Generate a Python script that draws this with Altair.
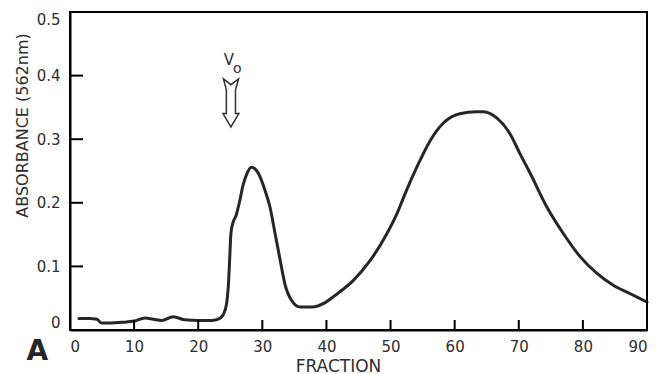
import altair as alt
import pandas as pd

# Elution profile
fraction = [1.4, 3.0, 4.2, 4.9, 6.5, 8.0, 10.0, 11.7, 13.0, 14.3, 16.1, 17.9, 20.0, 22.1,
            23.3, 23.9, 24.4, 24.7, 24.9, 25.1, 25.4, 25.9, 26.5, 27.0, 27.6, 28.3, 28.9,
            29.4, 30.4, 31.2, 32.0, 32.8, 33.5, 34.6, 35.9, 37.7, 39.8, 41.3, 44.2, 46.8,
            49.4, 51.0, 52.5, 54.1, 56.2, 58.2, 60.8, 63.4, 64.5, 66.6, 68.6, 70.2, 71.8,
            74.4, 77.0, 79.6, 82.2, 84.8, 87.4, 90.0]
absorbance = [0.018, 0.018, 0.017, 0.011, 0.011, 0.012, 0.014, 0.019, 0.017, 0.015, 0.021,
              0.016, 0.015, 0.015, 0.018, 0.024, 0.040, 0.070, 0.110, 0.152, 0.168, 0.180,
              0.204, 0.228, 0.246, 0.256, 0.253, 0.246, 0.220, 0.193, 0.151, 0.109, 0.073,
              0.046, 0.036, 0.036, 0.043, 0.054, 0.078, 0.109, 0.151, 0.183, 0.220, 0.256,
              0.298, 0.325, 0.340, 0.343, 0.343, 0.333, 0.309, 0.277, 0.246, 0.193, 0.151,
              0.115, 0.089, 0.070, 0.057, 0.044]

x_ticks = [0, 10, 20, 30, 40, 50, 60, 70, 80, 90]
y_ticks = [0, 0.1, 0.2, 0.3, 0.4, 0.5]
x_inner_ticks = [10, 20, 30, 40, 50, 60, 70, 80]
y_inner_ticks = [0.1, 0.2, 0.3, 0.4]
x_range = [0, 90]
y_range = [0, 0.5]

# Annotations (data coordinates)
vo_arrow_x = [25.1]
vo_arrow_y = [0.357]
vo_text = ["V", "o"]
vo_text_x = [24.8, 26.1]
vo_text_y = [0.424, 0.410]
panel_text = ["A"]
panel_x = [-5.1]
panel_y = [-0.034]

W, H = 577, 318
INK = "black"
TXT = "#2e2e2e"
FONT = "DejaVu Sans"
LW = 2

curve_df = pd.DataFrame({"fraction": fraction, "absorbance": absorbance})
xs = alt.Scale(domain=x_range, nice=False, zero=False)
ys = alt.Scale(domain=y_range, nice=False, zero=False)

curve = alt.Chart(curve_df).mark_line(
    color="#262626", strokeWidth=3, interpolate="monotone", strokeCap="round", strokeJoin="round"
).encode(
    x=alt.X("fraction:Q", scale=xs,
            axis=alt.Axis(values=x_ticks, format="d", labelFlush=True, tickSize=0,
                          labelPadding=9, domain=True, domainColor=INK, domainWidth=LW,
                          grid=False, labelFont=FONT,
                          labelFontSize=15, labelColor=TXT, title="FRACTION",
                          titleFont=FONT, titleFontSize=17, titleFontWeight="normal",
                          titleColor=TXT, titleX=268, titleY=36, titleAlign="center",
                          titleBaseline="middle")),
    y=alt.Y("absorbance:Q", scale=ys,
            axis=alt.Axis(values=y_ticks, format=".1~f", labelFlush=True, tickSize=0,
                          labelPadding=10, domain=True, domainColor=INK, domainWidth=LW,
                          grid=False, labelFont=FONT,
                          labelFontSize=15, labelColor=TXT, title="ABSORBANCE (562nm)",
                          titleFont=FONT, titleFontSize=16, titleFontWeight="normal",
                          titleColor=TXT, titleX=-48, titleY=113, titleAlign="center",
                          titleBaseline="middle", titleAngle=-90)),
)

# top and right borders of the frame
frame_top = alt.Chart(pd.DataFrame({"a": [x_range[0]], "b": [x_range[1]], "y": [y_range[1]]})).mark_rule(
    color=INK, strokeWidth=LW
).encode(x=alt.X("a:Q", scale=xs), x2="b:Q", y=alt.Y("y:Q", scale=ys))
frame_right = alt.Chart(pd.DataFrame({"x": [x_range[1]], "a": [y_range[0]], "b": [y_range[1]]})).mark_rule(
    color=INK, strokeWidth=LW
).encode(x=alt.X("x:Q", scale=xs), y=alt.Y("a:Q", scale=ys), y2="b:Q")

# inward ticks
xt = alt.Chart(pd.DataFrame({"t": x_inner_ticks})).mark_rule(
    color=INK, strokeWidth=LW
).encode(x=alt.X("t:Q", scale=xs), y=alt.value(H), y2=alt.value(H - 10))
yt = alt.Chart(pd.DataFrame({"t": y_inner_ticks})).mark_rule(
    color=INK, strokeWidth=LW
).encode(y=alt.Y("t:Q", scale=ys), x=alt.value(0), x2=alt.value(13))

arrow_path = ("M -0.31 -1 L 0 -0.76 L 0.32 -1 L 0.19 -0.55 L 0.19 0.44 L 0.33 0.44 "
              "L 0 1 L -0.33 0.44 L -0.19 0.44 L -0.19 -0.55 Z")
arrow = alt.Chart(pd.DataFrame({"x": vo_arrow_x, "y": vo_arrow_y})).mark_point(
    shape=arrow_path, size=2304, filled=True, fill="white", stroke="#333333", strokeWidth=1.5,
    opacity=1
).encode(x=alt.X("x:Q", scale=xs), y=alt.Y("y:Q", scale=ys))

vo_df = pd.DataFrame({"x": vo_text_x, "y": vo_text_y, "t": vo_text, "s": [15, 14]})
vo = alt.Chart(vo_df).mark_text(font=FONT, color=TXT, baseline="middle", align="center").encode(
    x=alt.X("x:Q", scale=xs), y=alt.Y("y:Q", scale=ys), text="t:N",
    size=alt.Size("s:Q", scale=None, legend=None)
)

panel = alt.Chart(pd.DataFrame({"x": panel_x, "y": panel_y, "t": panel_text})).mark_text(
    font=FONT, fontWeight="bold", fontSize=28, color="#262626", baseline="middle",
    align="center"
).encode(x=alt.X("x:Q", scale=xs), y=alt.Y("y:Q", scale=ys), text="t:N")

chart = alt.layer(curve, frame_top, frame_right, xt, yt, arrow, vo, panel).properties(
    width=W, height=H,
    autosize=alt.AutoSizeParams(type="none"),
    padding={"left": 62, "top": 4, "right": 7, "bottom": 44},
    background="white",
).configure_view(stroke=INK, strokeWidth=LW)

chart.save("out.html", embed_options={"renderer": "svg", "actions": False})
